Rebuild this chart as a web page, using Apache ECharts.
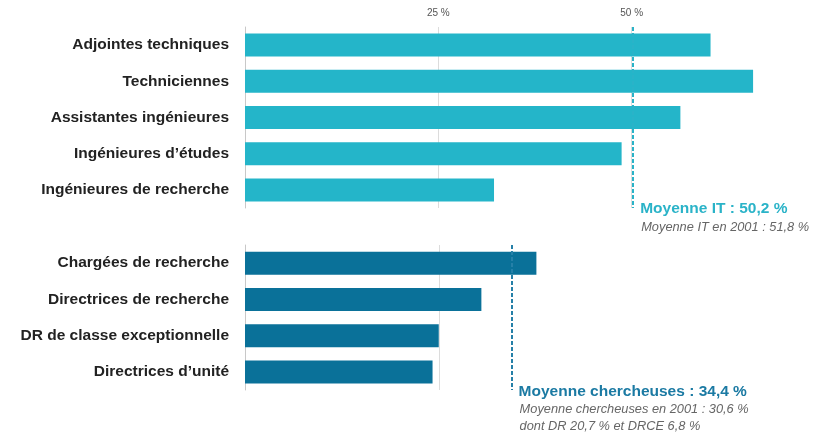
<!DOCTYPE html>
<html><head><meta charset="utf-8">
<script src="https://cdn.jsdelivr.net/npm/echarts@6/dist/echarts.min.js"></script>
<style>html,body{margin:0;padding:0;background:#fff}#c{width:828px;height:437px}</style>
</head><body><div id="c"></div>
<script>
const itCategories = ['Adjointes techniques', 'Techniciennes', 'Assistantes ingénieures', 'Ingénieures d\u2019études', 'Ingénieures de recherche'];
const itValues = [60.2, 65.7, 56.3, 48.7, 32.2];
const chCategories = ['Chargées de recherche', 'Directrices de recherche', 'DR de classe exceptionnelle', 'Directrices d\u2019unité'];
const chValues = [37.6, 30.5, 25.0, 24.2];
const xTickLabels = [25, 50];
const itMean = 50.2;
const chMean = 34.4;
const itMeanLabel = 'Moyenne IT : 50,2 %';
const itNotes = ['Moyenne IT en 2001 : 51,8 %'];
const chMeanLabel = 'Moyenne chercheuses : 34,4 %';
const chNotes = ['Moyenne chercheuses en 2001 : 30,6 %', 'dont DR 20,7 % et DRCE 6,8 %'];

const FONT = '"Liberation Sans", Arial, sans-serif';
const IT_COLOR = '#24b5c9';
const CH_COLOR = '#0a7199';
const pxPerUnit = 7.75;
const gridLeft = 245;
const g0 = {top: 27, height: 181};
const g1 = {top: 245, height: 145};

const chart = echarts.init(document.getElementById('c'), null, {renderer: 'canvas'});

function yAxisCfg(idx, cats) {
  return {
    type: 'category', gridIndex: idx, data: cats, inverse: true,
    axisTick: {show: false},
    axisLine: {show: true, lineStyle: {color: '#c8c8c8', width: 1}},
    axisLabel: {fontFamily: FONT, fontWeight: 'bold', fontSize: 15.5, color: '#222', margin: 16}
  };
}
function meanLine(v, color) {
  return {
    silent: true, symbol: 'none', label: {show: false},
    lineStyle: {color: color, type: [4, 2], width: 2},
    data: [{xAxis: v}]
  };
}

chart.setOption({
  animation: false,
  grid: [
    {left: gridLeft, top: g0.top, height: g0.height, width: 75 * pxPerUnit},
    {left: gridLeft, top: g1.top, height: g1.height, width: 50 * pxPerUnit}
  ],
  xAxis: [
    {
      type: 'value', gridIndex: 0, position: 'top', min: 0, max: 75, interval: 25,
      axisLine: {show: false}, axisTick: {show: false},
      axisLabel: {
        fontFamily: FONT, fontSize: 10, color: '#555', margin: 9,
        formatter: v => xTickLabels.includes(v) ? v + ' %' : ''
      },
      splitLine: {show: true, showMinLine: false, showMaxLine: false, lineStyle: {color: '#dcdcdc', width: 1}}
    },
    {
      type: 'value', gridIndex: 1, min: 0, max: 50, interval: 25,
      axisLine: {show: false}, axisTick: {show: false}, axisLabel: {show: false},
      splitLine: {show: true, showMinLine: false, showMaxLine: false, lineStyle: {color: '#dcdcdc', width: 1}}
    }
  ],
  yAxis: [yAxisCfg(0, itCategories), yAxisCfg(1, chCategories)],
  series: [
    {
      type: 'bar', xAxisIndex: 0, yAxisIndex: 0, data: itValues, barWidth: 23,
      itemStyle: {color: IT_COLOR}, markLine: meanLine(itMean, '#2ab3c8')
    },
    {
      type: 'bar', xAxisIndex: 1, yAxisIndex: 1, data: chValues, barWidth: 23,
      itemStyle: {color: CH_COLOR}, markLine: meanLine(chMean, '#2580a8')
    }
  ]
});

function annotation(x, yBase, title, notes, color, titleSize) {
  const els = [{
    type: 'text', x: x, y: yBase,
    style: {text: title, fontFamily: FONT, fontWeight: 'bold', fontSize: titleSize, fill: color, verticalAlign: 'middle', align: 'left'}
  }];
  notes.forEach((n, i) => {
    els.push({
      type: 'text', x: x + 1, y: yBase + 18 + i * 17,
      style: {text: n, fontFamily: FONT, fontStyle: 'italic', fontSize: 12.8, fill: '#666', verticalAlign: 'middle', align: 'left'}
    });
  });
  return els;
}

const itX = chart.convertToPixel({xAxisIndex: 0}, itMean);
const chX = chart.convertToPixel({xAxisIndex: 1}, chMean);
chart.setOption({
  graphic: [
    ...annotation(itX + 7, g0.top + g0.height + 1, itMeanLabel, itNotes, '#2ab3c8', 15.5),
    ...annotation(chX + 7, g1.top + g1.height + 1.5, chMeanLabel, chNotes, '#1b7aa3', 15.5)
  ]
});
</script>
</body></html>
